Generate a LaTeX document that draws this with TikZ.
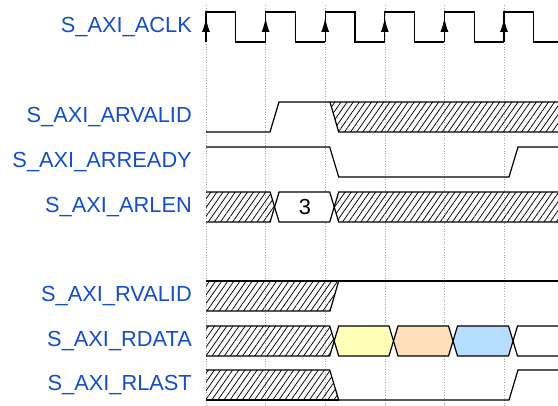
\documentclass[tikz,border=0pt]{standalone}
\usepackage{fontspec}
\setmainfont{Liberation Sans}
\usepackage{xcolor}
\usetikzlibrary{arrows.meta}
\usetikzlibrary{patterns.meta}

\definecolor{labelblue}{RGB}{20,78,200}
\definecolor{datayellow}{RGB}{255,255,184}
\definecolor{dataorange}{RGB}{255,222,186}
\definecolor{datablue}{RGB}{184,222,255}

\tikzset{
  sig/.style={line width=1.2pt},
  hatch/.style={pattern={Lines[angle=55,distance=5pt,line width=0.75pt]}},
  gridline/.style={gray!70,dotted,line width=0.6pt},
  siglabel/.style={anchor=east,inner sep=0pt,text=labelblue,font=\fontsize{21.8}{26}\selectfont},
}

\begin{document}
\begin{tikzpicture}[x=1pt,y=-1pt]
\useasboundingbox (0,0) rectangle (558,406);
\clip (0,0) rectangle (558,406);

% clock edges
\foreach \i in {0,...,5}
  \draw[gridline] (206+59.6*\i,5) -- (206+59.6*\i,406);

% names
\node[siglabel] (aclk) at (192,27) {S\_AXI\_ACLK};
\node[siglabel] (arvalid) at (192,117) {S\_AXI\_ARVALID};
\node[siglabel] (arready) at (192,162) {S\_AXI\_ARREADY};
\node[siglabel] (arlen) at (192,207) {S\_AXI\_ARLEN};
\node[siglabel] (rvalid) at (192,296) {S\_AXI\_RVALID};
\node[siglabel] (rdata) at (192,341) {S\_AXI\_RDATA};
\node[siglabel] (rlast) at (192,385) {S\_AXI\_RLAST};

% ACLK
\foreach \i in {0,...,5} {
  \pgfmathsetmacro\r{206+59.6*\i}
  \draw[sig] (\r,42) -- (\r,12) -- (\r+29.8,12) -- (\r+29.8,42) -- (\r+59.6,42);
  \draw[sig,-{Latex[length=14pt,width=8pt]}] (\r,42) -- (\r,18);
}

% ARVALID
\draw[sig] (206,132) -- (270,132) -- (279,102) -- (330,102);
\fill[hatch] (330,102) -- (560,102) -- (560,132) -- (338.7,132) -- cycle;
\draw[sig] (560,102) -- (330,102) -- (338.7,132) -- (560,132);

% ARREADY
\draw[sig] (206,147) -- (329.7,147) -- (338.7,177) -- (509,177) -- (518,147) -- (560,147);

% ARLEN
\fill[hatch] (206,192) -- (270.1,192) -- (274.6,207) -- (270.1,222) -- (206,222) -- cycle;
\draw[sig] (206,192) -- (270.1,192) -- (274.6,207) -- (270.1,222) -- (206,222);
\draw[sig,fill=white] (274.6,207) -- (279.1,192) -- (329.7,192) -- (334.2,207) -- (329.7,222) -- (279.1,222) -- cycle;
\node (len) at (305,207) {\fontsize{21.8}{26}\selectfont 3};
\fill[hatch] (334.2,207) -- (338.7,192) -- (560,192) -- (560,222) -- (338.7,222) -- cycle;
\draw[sig] (560,192) -- (338.7,192) -- (334.2,207) -- (338.7,222) -- (560,222);

% RVALID
\fill[hatch] (206,281) -- (338.7,281) -- (330,311) -- (206,311) -- cycle;
\draw[sig] (206,281) -- (560,281);
\draw[sig] (206,311) -- (330,311) -- (338.7,281);

% RDATA
\fill[hatch] (206,326) -- (329.7,326) -- (334.2,341) -- (329.7,356) -- (206,356) -- cycle;
\draw[sig] (206,326) -- (329.7,326) -- (334.2,341) -- (329.7,356) -- (206,356);
\draw[sig,fill=datayellow] (334.2,341) -- (338.7,326) -- (389,326) -- (393.5,341) -- (389,356) -- (338.7,356) -- cycle;
\draw[sig,fill=dataorange] (393.5,341) -- (398,326) -- (448.5,326) -- (453,341) -- (448.5,356) -- (398,356) -- cycle;
\draw[sig,fill=datablue] (453,341) -- (457.5,326) -- (508.5,326) -- (513,341) -- (508.5,356) -- (457.5,356) -- cycle;
\draw[sig] (560,326) -- (517.5,326) -- (513,341) -- (517.5,356) -- (560,356);

% RLAST
\fill[hatch] (206,370) -- (329.7,370) -- (338.7,400) -- (206,400) -- cycle;
\draw[sig] (206,370) -- (329.7,370) -- (338.7,400) -- (509,400) -- (518,370) -- (560,370);
\draw[sig] (206,400) -- (338.7,400);
\end{tikzpicture}
\end{document}
